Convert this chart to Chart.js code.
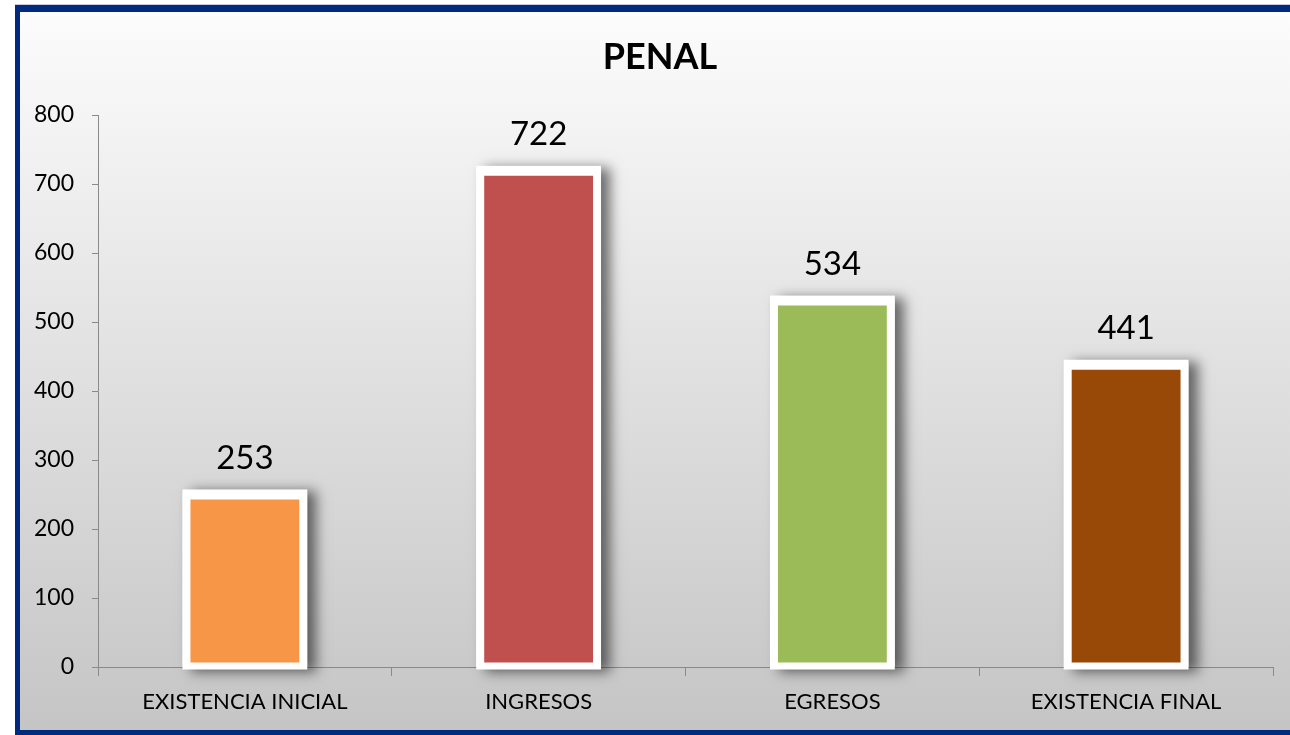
<!DOCTYPE html>
<html lang="es">
<head>
    <meta charset="UTF-8">
    <title>PENAL</title>
    <script src="https://cdn.jsdelivr.net/npm/chart.js"></script>
    <style>
        body {
            margin: 0;
            background-color: #ffffff;
        }
        #wrap {
            position: relative;
            width: 1290px;
            height: 735px;
        }
    </style>
</head>
<body>
    <div id="wrap">
        <canvas id="penal-chart" width="1290" height="735"></canvas>
    </div>

    <script>
        // datos del grafico
        const categorias = ['EXISTENCIA INICIAL', 'INGRESOS', 'EGRESOS', 'EXISTENCIA FINAL'];
        const valores = [253, 722, 534, 441];
        const coloresBarras = ['#F79646', '#C0504D', '#9BBB59', '#984807'];
        const tituloGrafico = 'PENAL';

        const fuente = "Lato, 'Open Sans', sans-serif";

        // fondo degradado + marco azul
        const fondoPlugin = {
            id: 'fondo',
            beforeDraw(chart) {
                const ctx = chart.ctx;
                ctx.save();
                ctx.fillStyle = '#ffffff';
                ctx.fillRect(0, 0, 1290, 735);
                const grad = ctx.createLinearGradient(0, 12, 0, 730);
                grad.addColorStop(0, '#fcfcfc');
                grad.addColorStop(1, '#c5c5c5');
                ctx.fillStyle = grad;
                ctx.fillRect(20, 12, 1270, 718);
                // marco
                ctx.fillStyle = '#c6cde0';
                ctx.fillRect(15, 4, 1275, 1);
                ctx.fillStyle = '#002a80';
                ctx.fillRect(15, 5, 1275, 7);
                ctx.fillRect(15, 5, 5, 730);
                ctx.fillRect(15, 730, 1275, 5);
                // titulo (centrado en el area del grafico de Excel)
                ctx.fillStyle = '#000000';
                ctx.font = 'bold 36px ' + fuente;
                ctx.textAlign = 'center';
                ctx.textBaseline = 'middle';
                ctx.fillText(tituloGrafico, 660, 57);
                ctx.restore();
            }
        };

        // sombra a la derecha de cada barra
        const sombraPlugin = {
            id: 'sombra',
            beforeDatasetsDraw(chart) {
                const ctx = chart.ctx;
                const meta = chart.getDatasetMeta(0);
                ctx.save();
                ctx.shadowColor = 'rgba(0, 0, 0, 0.55)';
                ctx.shadowBlur = 12;
                ctx.shadowOffsetX = 9;
                ctx.shadowOffsetY = 2;
                ctx.fillStyle = '#ffffff';
                meta.data.forEach(bar => {
                    const w = bar.width;
                    ctx.fillRect(bar.x - w / 2, bar.y - 3, w, bar.base - bar.y + 6);
                });
                ctx.restore();
            }
        };

        // etiquetas de valor encima de las barras
        const etiquetasPlugin = {
            id: 'etiquetas',
            afterDatasetsDraw(chart) {
                const ctx = chart.ctx;
                const meta = chart.getDatasetMeta(0);
                ctx.save();
                ctx.fillStyle = '#000000';
                ctx.font = '33px ' + fuente;
                ctx.textAlign = 'center';
                ctx.textBaseline = 'middle';
                meta.data.forEach((bar, i) => {
                    ctx.fillText(String(valores[i]), bar.x, bar.y - 34);
                });
                ctx.restore();
            }
        };

        const ctx = document.getElementById('penal-chart').getContext('2d');
        const grafico = new Chart(ctx, {
            type: 'bar',
            data: {
                labels: categorias,
                datasets: [{
                    data: valores,
                    backgroundColor: coloresBarras,
                    borderColor: '#ffffff',
                    borderWidth: { top: 7, left: 8, right: 8, bottom: 4 },
                    borderSkipped: false,
                    categoryPercentage: 1,
                    barPercentage: 0.425
                }]
            },
            options: {
                responsive: false,
                animation: false,
                layout: {
                    padding: { left: 20, right: 17, top: 115, bottom: 10 }
                },
                plugins: {
                    legend: { display: false },
                    tooltip: { enabled: false },
                    title: { display: false }
                },
                scales: {
                    x: {
                        grid: {
                            offset: true,
                            drawOnChartArea: false,
                            drawTicks: true,
                            tickLength: 9,
                            color: '#8a8a8a'
                        },
                        border: { color: '#8a8a8a', width: 1 },
                        ticks: {
                            color: '#000000',
                            font: { family: fuente, size: 22 },
                            padding: 13,
                            maxRotation: 0
                        },
                        afterFit(scale) { scale.height = 58; }
                    },
                    y: {
                        min: 0,
                        max: 800,
                        ticks: {
                            stepSize: 100,
                            color: '#000000',
                            font: { family: fuente, size: 23 },
                            padding: 18
                        },
                        grid: {
                            drawOnChartArea: false,
                            drawTicks: true,
                            tickLength: 6,
                            color: '#8a8a8a'
                        },
                        border: { color: '#8a8a8a', width: 1 },
                        afterFit(scale) { scale.width = 78; }
                    }
                }
            },
            plugins: [fondoPlugin, sombraPlugin, etiquetasPlugin]
        });
    </script>
</body>
</html>
